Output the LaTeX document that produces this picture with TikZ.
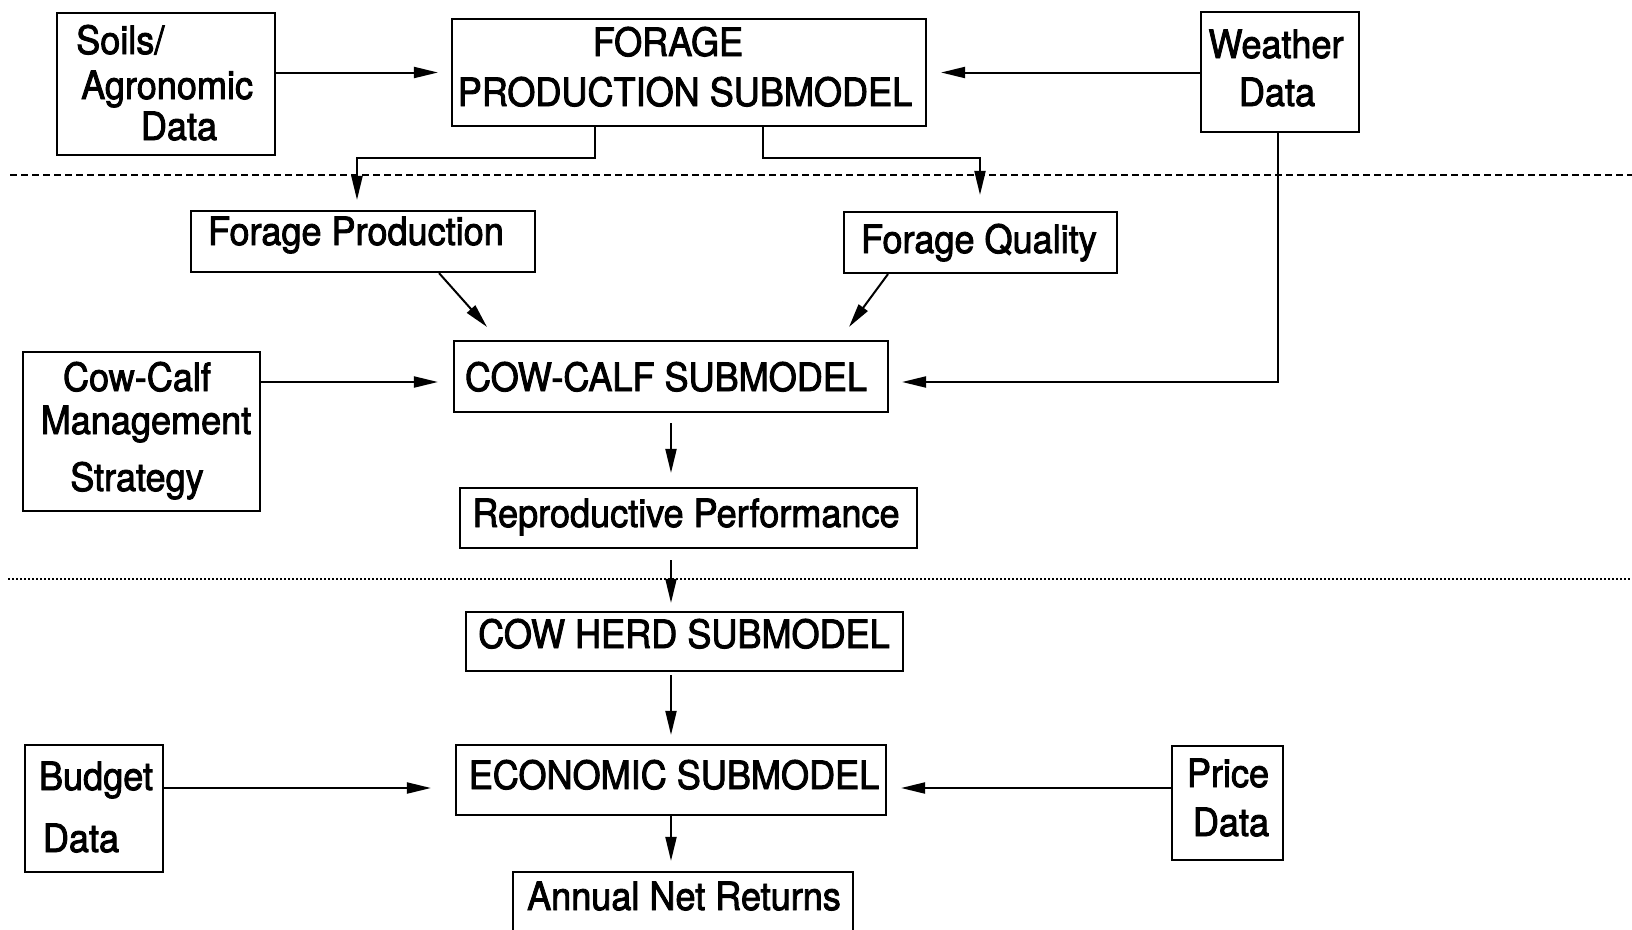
\documentclass[tikz,border=0pt]{standalone}
\usepackage{fontspec}
\setmainfont[FakeStretch=0.925,FakeBold=2.2]{TeX Gyre Heros}
\usetikzlibrary{arrows.meta,calc}
\newcommand{\labelsize}{\fontsize{39}{44}\selectfont}
\tikzset{
  box/.style={draw, rectangle, line width=2.1pt, inner sep=0pt},
  txt/.style={font=\labelsize, inner sep=0pt, anchor=base},
  arr/.style={line width=2pt, -{Triangle[length=24pt,width=11pt]}},
  link/.style={line width=2pt}
}
\begin{document}
\begin{tikzpicture}[x=1pt,y=-1pt]
\useasboundingbox[fill=white] (0,0) rectangle (1632,929);

% boxes
\node[box, minimum width=218pt, minimum height=142.5pt] (soils)  at (166,84) {};
\node[box, minimum width=474pt, minimum height=107pt]   (fps)    at (689,72.5) {};
\node[box, minimum width=158pt, minimum height=119.5pt] (wd)     at (1280,72) {};
\node[box, minimum width=343.5pt, minimum height=61pt]  (fprod)  at (363,241.5) {};
\node[box, minimum width=273pt, minimum height=61pt]    (fq)     at (980.5,242.5) {};
\node[box, minimum width=434pt, minimum height=71pt]    (cc)     at (671,376.5) {};
\node[box, minimum width=237pt, minimum height=159pt]   (mgmt)   at (141.5,431.5) {};
\node[box, minimum width=457pt, minimum height=60pt]    (repro)  at (688.5,518) {};
\node[box, minimum width=437pt, minimum height=59pt]    (herd)   at (684.5,641.5) {};
\node[box, minimum width=430pt, minimum height=70pt]    (econ)   at (671,780) {};
\node[box, minimum width=138pt, minimum height=127pt]   (budget) at (94,808.5) {};
\node[box, minimum width=111pt, minimum height=114pt]   (price)  at (1227.5,803) {};
\node[box, minimum width=340pt, minimum height=73pt]    (annual) at (683,908.5) {};

% texts
\node[txt, anchor=base west] (t1) at (76,54) {Soils/};
\node[txt, anchor=base west] (t2) at (81,99) {Agronomic};
\node[txt] (t3) at (179,140) {Data};
\node[txt] (t4) at (668,56) {FORAGE};
\node[txt] (t5) at (685,106) {PRODUCTION SUBMODEL};
\node[txt] (t6) at (1276,58) {Weather};
\node[txt] (t7) at (1277,106) {Data};
\node[txt] (t8) at (356,245) {Forage Production};
\node[txt] (t9) at (979,253) {Forage Quality};
\node[txt] (t10) at (666,391) {COW-CALF SUBMODEL};
\node[txt] (t11) at (137,391) {Cow-Calf};
\node[txt] (t12) at (146,434) {Management};
\node[txt] (t13) at (137,491) {Strategy};
\node[txt] (t14) at (686,527) {Reproductive Performance};
\node[txt] (t15) at (684,648) {COW HERD SUBMODEL};
\node[txt] (t16) at (674,789) {ECONOMIC SUBMODEL};
\node[txt] (t17) at (96,790) {Budget};
\node[txt] (t18) at (81,852) {Data};
\node[txt] (t19) at (1228,787) {Price};
\node[txt] (t20) at (1231,836) {Data};
\node[txt] (t21) at (684,910) {Annual Net Returns};

% section separators
\draw[line width=1.6pt, dash pattern=on 7pt off 4pt] (10,175) -- (1632,175);
\draw[line width=1.6pt, dash pattern=on 2pt off 2pt] (8,579) -- (1632,579);

% routing helpers
\coordinate (kl) at (595,158);
\coordinate (kld) at (357,158);
\coordinate (kr) at (763,158);
\coordinate (krd) at (980,158);
\coordinate (rowcc) at (0,382);
\coordinate (rowec) at (0,788);
\coordinate (col) at (671,0);
\coordinate (wcol) at (1278,0);

% top inputs
\draw[arr, shorten >=13pt] (soils.east |- fps.west) -- (fps.west);
\draw[arr, shorten >=14pt] (wd.west |- fps.east) -- (fps.east);

% forage submodel outputs
\draw[arr, shorten >=10pt] (fps.south -| kl) -- (kl) -- (kld) -- (fprod.north -| kld);
\draw[arr, shorten >=16pt] (fps.south -| kr) -- (kr) -- (krd) -- (fq.north -| krd);

% into cow-calf submodel
\draw[arr] ([xshift=76pt]fprod.south) -- ([xshift=-184pt,yshift=13pt]cc.north);
\draw[arr] ([xshift=-92.5pt]fq.south) -- ([xshift=178pt,yshift=13pt]cc.north);
\draw[arr, shorten >=13pt] (wd.south -| wcol) -- (wcol |- rowcc) -- (cc.east |- rowcc);
\draw[arr, shorten >=15pt] (mgmt.east |- rowcc) -- (cc.west |- rowcc);

% main chain
\draw[arr, shorten <=10pt, shorten >=14pt] (cc.south -| col) -- (repro.north -| col);
\draw[arr, shorten <=11pt, shorten >=8pt] (repro.south -| col) -- (herd.north -| col);
\draw[arr, shorten <=3pt, shorten >=9pt] (herd.south -| col) -- (econ.north -| col);
\draw[arr, shorten >=10pt] (econ.south -| col) -- (annual.north -| col);

% economic inputs
\draw[arr, shorten >=24pt] (budget.east |- rowec) -- (econ.west |- rowec);
\draw[arr, shorten >=14pt] (price.west |- rowec) -- (econ.east |- rowec);
\end{tikzpicture}
\end{document}
